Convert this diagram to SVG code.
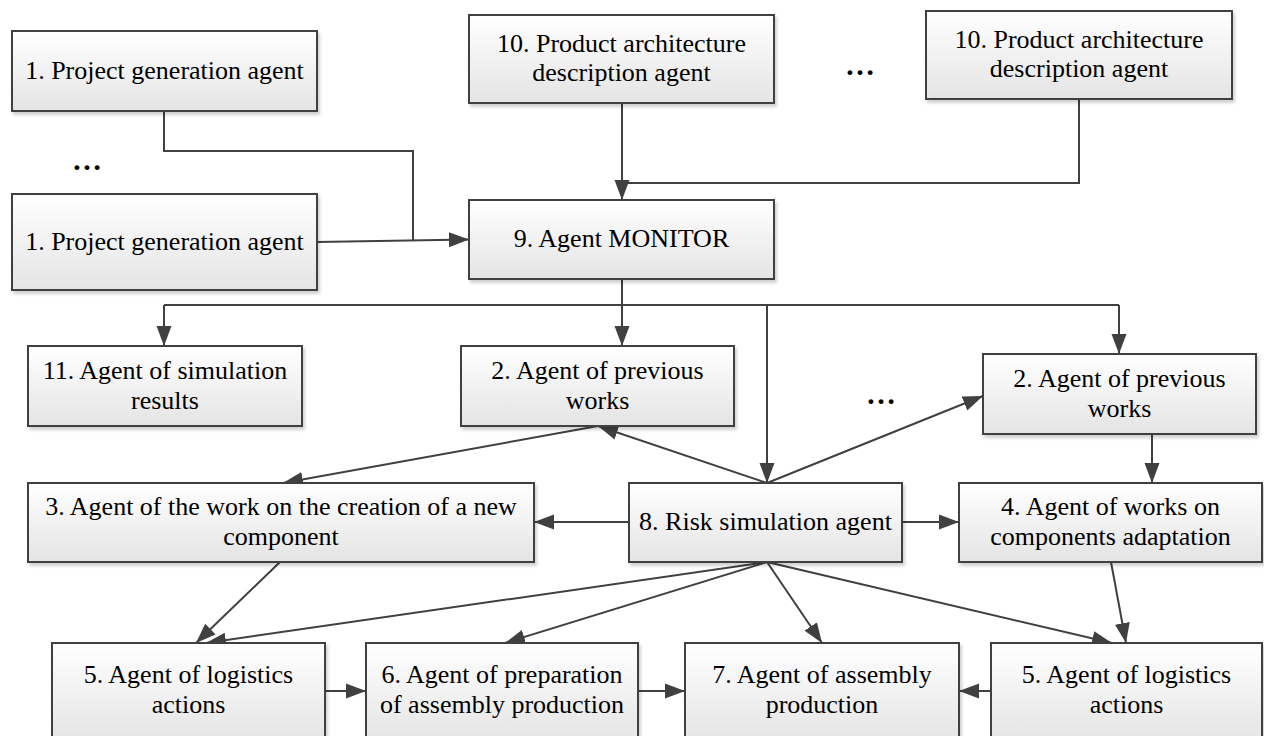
<svg xmlns="http://www.w3.org/2000/svg" width="1264" height="736" viewBox="0 0 1264 736">
<defs>
<linearGradient id="g" x1="0" y1="0" x2="0" y2="1">
<stop offset="0" stop-color="#ffffff"/>
<stop offset="1" stop-color="#e4e4e4"/>
</linearGradient>
<filter id="sh" x="-5%" y="-5%" width="115%" height="125%">
<feDropShadow dx="2" dy="3" stdDeviation="1.5" flood-color="#000" flood-opacity="0.18"/>
</filter>
<marker id="ah" markerUnits="userSpaceOnUse" markerWidth="20" markerHeight="16" refX="20" refY="8" orient="auto">
<path d="M0,0.5 L20,8 L0,15.5 z" fill="#404040"/>
</marker>
<style>
.box{fill:url(#g);stroke:#404040;stroke-width:2;filter:url(#sh)}
.t{font-family:"Liberation Serif","Times New Roman",serif;font-size:26px;fill:#000;text-anchor:middle}
.dots{font-family:"Liberation Serif","Times New Roman",serif;font-size:30px;font-weight:bold;fill:#000}
.c{fill:none;stroke:#404040;stroke-width:2}
.a{marker-end:url(#ah)}
</style>
</defs>
<rect width="1264" height="736" fill="#fff"/>

<g id="connectors">
<polyline class="c" points="164,111 164,151 413,151 413,240"/>
<line class="c a" x1="317" y1="242" x2="469" y2="239.5"/>
<line class="c a" x1="622" y1="103" x2="622" y2="200"/>
<polyline class="c" points="1079,99 1079,183 622,183"/>
<line class="c" x1="622" y1="279" x2="622" y2="305"/>
<line class="c" x1="164" y1="305" x2="1119" y2="305"/>
<polyline class="c a" points="164,305 164,346"/>
<polyline class="c a" points="622,305 622,346"/>
<polyline class="c a" points="767,305 767,483"/>
<polyline class="c a" points="1119,305 1119,354"/>
<line class="c a" x1="767" y1="483" x2="598" y2="426"/>
<line class="c a" x1="767" y1="483" x2="983" y2="396"/>
<line class="c a" x1="598" y1="426" x2="283" y2="483"/>
<line class="c a" x1="1152" y1="434" x2="1152" y2="483"/>
<line class="c a" x1="629" y1="522" x2="534" y2="522"/>
<line class="c a" x1="902" y1="522" x2="959" y2="522"/>
<line class="c a" x1="280" y1="562" x2="196" y2="643"/>
<line class="c a" x1="767" y1="562" x2="206" y2="643"/>
<line class="c a" x1="767" y1="562" x2="505" y2="643"/>
<line class="c a" x1="767" y1="562" x2="822" y2="643"/>
<line class="c a" x1="767" y1="562" x2="1112" y2="643"/>
<line class="c a" x1="1111" y1="562" x2="1126" y2="643"/>
<line class="c a" x1="325" y1="691" x2="366" y2="691"/>
<line class="c a" x1="638" y1="691" x2="685" y2="691"/>
<line class="c a" x1="991" y1="691" x2="959" y2="691"/>
</g>

<g id="n1a"><rect class="box" x="12" y="31" width="305" height="80"/><text class="t" x="164.5" y="79">1. Project generation agent</text></g>
<g id="n1b"><rect class="box" x="12" y="194" width="305" height="96"/><text class="t" x="164.5" y="250">1. Project generation agent</text></g>
<g id="n10a"><rect class="box" x="469" y="15" width="305" height="88"/><text class="t" x="621.5" y="52">10. Product architecture</text><text class="t" x="621.5" y="81">description agent</text></g>
<g id="n10b"><rect class="box" x="926" y="11" width="306" height="88"/><text class="t" x="1079" y="48">10. Product architecture</text><text class="t" x="1079" y="77">description agent</text></g>
<g id="n9"><rect class="box" x="469" y="200" width="305" height="79"/><text class="t" x="621.5" y="247">9. Agent MONITOR</text></g>
<g id="n11"><rect class="box" x="28" y="346" width="274" height="80"/><text class="t" x="165" y="379">11. Agent of simulation</text><text class="t" x="165" y="409">results</text></g>
<g id="n2a"><rect class="box" x="461" y="346" width="273" height="80"/><text class="t" x="597.5" y="379">2. Agent of previous</text><text class="t" x="597.5" y="409">works</text></g>
<g id="n2b"><rect class="box" x="983" y="354" width="273" height="80"/><text class="t" x="1119.5" y="387">2. Agent of previous</text><text class="t" x="1119.5" y="417">works</text></g>
<g id="n3"><rect class="box" x="28" y="483" width="506" height="79"/><text class="t" x="281" y="515">3. Agent of the work on the creation of a new</text><text class="t" x="281" y="545">component</text></g>
<g id="n8"><rect class="box" x="629" y="483" width="273" height="79"/><text class="t" x="765.5" y="530">8. Risk simulation agent</text></g>
<g id="n4"><rect class="box" x="959" y="483" width="303" height="79"/><text class="t" x="1110.5" y="515">4. Agent of works on</text><text class="t" x="1110.5" y="545">components adaptation</text></g>
<g id="n5a"><rect class="box" x="52" y="643" width="273" height="100"/><text class="t" x="188.5" y="683">5. Agent of logistics</text><text class="t" x="188.5" y="713">actions</text></g>
<g id="n6"><rect class="box" x="366" y="643" width="272" height="100"/><text class="t" x="502" y="683">6. Agent of preparation</text><text class="t" x="502" y="713">of assembly production</text></g>
<g id="n7"><rect class="box" x="685" y="643" width="274" height="100"/><text class="t" x="822" y="683">7. Agent of assembly</text><text class="t" x="822" y="713">production</text></g>
<g id="n5b"><rect class="box" x="991" y="643" width="271" height="100"/><text class="t" x="1126.5" y="683">5. Agent of logistics</text><text class="t" x="1126.5" y="713">actions</text></g>

<g id="ellipses">
<text class="dots" x="72" y="170">…</text>
<text class="dots" x="845" y="75">…</text>
<text class="dots" x="866" y="404">…</text>
</g>
</svg>
